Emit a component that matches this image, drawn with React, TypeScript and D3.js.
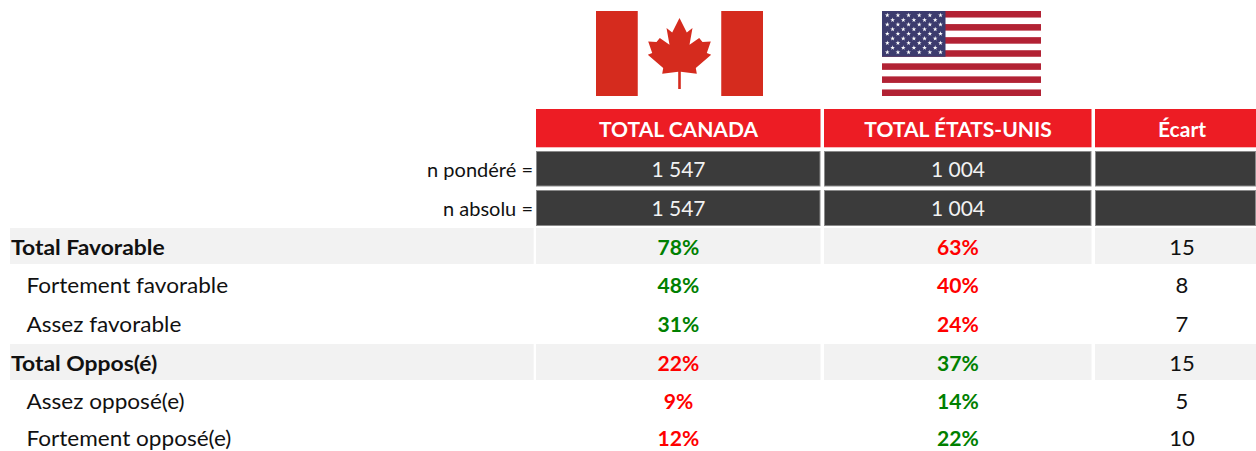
import React from 'react';
import * as d3 from 'd3';

const columns = ['TOTAL CANADA', 'TOTAL ÉTATS-UNIS', 'Écart'];
const sampleLabels = ['n pondéré =', 'n absolu ='];
const canadaSample = ['1 547', '1 547'];
const usSample = ['1 004', '1 004'];
const rowLabels = ['Total Favorable', 'Fortement favorable', 'Assez favorable', 'Total Oppos(é)', 'Assez opposé(e)', 'Fortement opposé(e)'];
const totalRows = ['Total Favorable', 'Total Oppos(é)'];
const canadaValues = [78, 48, 31, 22, 9, 12];
const usValues = [63, 40, 24, 37, 14, 22];
const gapValues = [15, 8, 7, 15, 5, 10];

const FONT = 'Lato, Carlito, sans-serif';
const GREEN = '#008000';
const RED = '#ff0000';

// cell edges measured on the reference
const colX = d3.scaleOrdinal<string, number>().domain(columns).range([536, 824, 1095]);
const colW = d3.scaleOrdinal<string, number>().domain(columns).range([284.5, 267.5, 161]);
// text centre, the last column runs past the picture edge
const colMid = d3.scaleOrdinal<string, number>().domain(columns).range([678.5, 958, 1182]);
const rowCenter = d3.scaleOrdinal<string, number>().domain(rowLabels).range([247, 285, 323.5, 363, 401, 438]);
const bandTop = d3.scaleOrdinal<string, number>().domain(totalRows).range([228, 344]);
const sampleTop = d3.scaleOrdinal<string, number>().domain(sampleLabels).range([151, 190]);

const leaf = [
  [0, -35.4], [7.3, -21], [13, -25.4], [10, -8.7], [19.7, -15.4], [23, -11.4], [31.3, -12], [27.3, -0.4],
  [31.7, 1.3], [16.3, 14.6], [17.3, 20.3], [1.3, 18.3], [1.3, 35.6], [-1.3, 35.6], [-1.3, 18.3], [-17.3, 20.3],
  [-16.3, 14.6], [-31.7, 1.3], [-27.3, -0.4], [-31.3, -12], [-23, -11.4], [-19.7, -15.4], [-10, -8.7], [-13, -25.4], [-7.3, -21],
];

// the reference is stretched sideways, so the text gets a small x scale
function Label({ x, y, stretch = 1, anchor = 'start', size, bold = false, fill = '#111', children }: any) {
  return (
    <text transform={`translate(${x},${y}) scale(${stretch},1)`} dy="0.35em" textAnchor={anchor}
      fontSize={size} fontWeight={bold ? 700 : 400} fill={fill}>
      {children}
    </text>
  );
}

function CanadaFlag() {
  const x = d3.scaleLinear().domain([0, 4]).range([596, 763]);
  const line = d3.line();
  return (
    <g>
      <rect x={x(0)} y={11} width={x(1) - x(0)} height={85} fill="#d52b1e" />
      <rect x={x(3)} y={11} width={x(4) - x(3)} height={85} fill="#d52b1e" />
      <path d={line(leaf as [number, number][]) + 'Z'} transform="translate(679.5,53.5)" fill="#d52b1e" />
    </g>
  );
}

function UsFlag() {
  const stripes = d3.range(13);
  const y = d3.scaleBand<number>().domain(stripes).range([11, 96]);
  const star = d3.symbol(d3.symbolStar, 7)();
  const rows = d3.range(9);
  const sx = d3.scaleLinear().domain([0, 5]).range([887.3, 940.5]);
  const sy = d3.scaleLinear().domain([0, 8]).range([15.3, 52.3]);
  return (
    <g>
      {stripes.filter(i => i % 2 === 0).map(i => (
        <rect key={i} x={882} y={y(i)} width={159} height={y.bandwidth()} fill="#b22234" />
      ))}
      <rect x={882} y={11} width={63.5} height={y.bandwidth() * 7} fill="#3c3b6e" />
      {rows.flatMap(r =>
        d3.range(r % 2 === 0 ? 6 : 5).map(c => (
          <path key={r + '-' + c} d={star ?? ''} fill="#fff"
            transform={`translate(${sx(c + (r % 2 === 0 ? 0 : 0.5))},${sy(r)})`} />
        )),
      )}
    </g>
  );
}

export default function App() {
  const pct = (mine: number, other: number, i: number, key: string) => (
    <Label key={key} x={colMid(key)} y={rowCenter(rowLabels[i]) + 1} anchor="middle" bold size={20.5} stretch={1.03}
      fill={mine > other ? GREEN : RED}>
      {mine}%
    </Label>
  );
  return (
    <svg width={1256} height={451} style={{ position: 'absolute', left: 0, top: 0, fontFamily: FONT }}>
      <rect width={1256} height={451} fill="#fff" />
      <CanadaFlag />
      <UsFlag />

      {columns.map(c => (
        <g key={c}>
          <rect x={colX(c)} y={109} width={colW(c)} height={38.3} fill="#ed1c24" />
          <Label x={colMid(c)} y={130} anchor="middle" bold size={20.5} stretch={1.025} fill="#fff">{c}</Label>
        </g>
      ))}

      {sampleLabels.map((s, i) => (
        <g key={s}>
          <Label x={533} y={sampleTop(s) + 19} anchor="end" size={20}>{s}</Label>
          {columns.map(c => (
            <rect key={c} x={colX(c) + 0.5} y={sampleTop(s) + 0.5} width={colW(c) - 1} height={i === 0 ? 34.5 : 35}
              fill="#3b3b3b" stroke="#8a8a8a" strokeWidth={1} />
          ))}
          <Label x={colMid(columns[0])} y={sampleTop(s) + 19} anchor="middle" size={21} fill="#f2f2f2">{canadaSample[i]}</Label>
          <Label x={colMid(columns[1])} y={sampleTop(s) + 19} anchor="middle" size={21} fill="#f2f2f2">{usSample[i]}</Label>
        </g>
      ))}

      {totalRows.map(r => (
        <g key={r}>
          <rect x={10} y={bandTop(r)} width={523.7} height={36} fill="#f2f2f2" />
          {columns.map(c => (
            <rect key={c} x={colX(c)} y={bandTop(r)} width={colW(c)} height={36} fill="#f2f2f2" />
          ))}
        </g>
      ))}

      {rowLabels.map((r, i) => {
        const isTotal = totalRows.includes(r);
        return (
          <g key={r}>
            <Label x={isTotal ? 11 : 26.5} y={rowCenter(r) + 1} size={21} bold={isTotal} stretch={isTotal ? 1.09 : 1.075}>{r}</Label>
            {pct(canadaValues[i], usValues[i], i, columns[0])}
            {pct(usValues[i], canadaValues[i], i, columns[1])}
            <Label x={colMid(columns[2])} y={rowCenter(r) + 1} anchor="middle" size={21} stretch={1.05}>{gapValues[i]}</Label>
          </g>
        );
      })}
    </svg>
  );
}
